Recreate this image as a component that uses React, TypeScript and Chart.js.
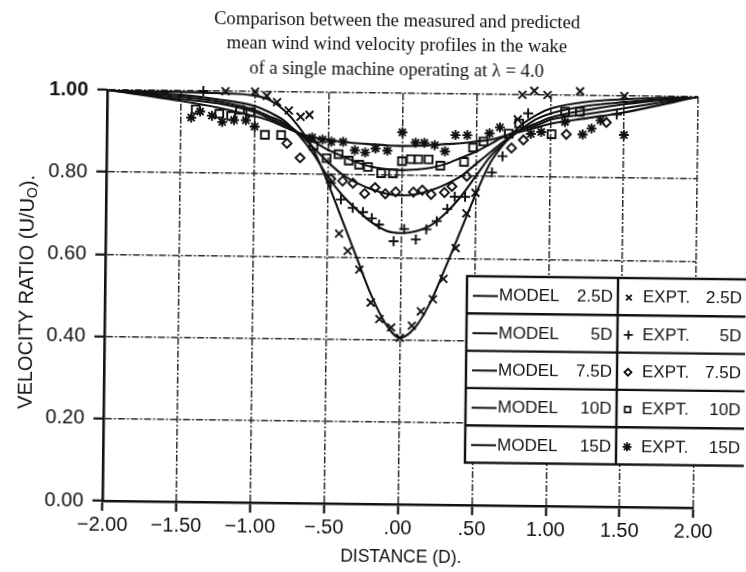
import React, { useEffect, useRef } from 'react';
import { Chart, registerables } from 'chart.js';
import { drawPoint } from 'chart.js/helpers';

Chart.register(...registerables);

const titleLines = [
  'Comparison between the measured and predicted',
  'mean wind wind velocity profiles in the wake',
  'of a single machine operating at \u03bb = 4.0',
];
const xAxisTitle = 'DISTANCE (D).';
const yAxisTitleMain = 'VELOCITY RATIO (U/U';
const yAxisTitleSub = 'O';
const yAxisTitleEnd = ').';

const xTickLabels = ['\u22122.00', '\u22121.50', '\u22121.00', '\u2212.50', '.00', '.50', '1.00', '1.50', '2.00'];
const yTickLabels = ['0.00', '0.20', '0.40', '0.60', '0.80', '1.00'];

const distances = ['2.5D', '5D', '7.5D', '10D', '15D'];

// model profiles, sampled at modelX
const modelX = [-2, -1.5, -1.25, -1, -0.9, -0.8, -0.7, -0.6, -0.5, -0.4, -0.3, -0.2, -0.1, 0, 0.1, 0.2, 0.3, 0.4, 0.5, 0.6, 0.7, 0.8, 0.9, 1.0, 1.25, 1.5, 2];
const model25 = [1.0, 0.997, 0.995, 0.99, 0.98, 0.955, 0.915, 0.86, 0.78, 0.69, 0.6, 0.51, 0.44, 0.405, 0.43, 0.49, 0.575, 0.665, 0.755, 0.835, 0.885, 0.925, 0.95, 0.967, 0.985, 0.992, 1.0];
const model5 = [1.0, 0.99, 0.98, 0.965, 0.95, 0.93, 0.895, 0.85, 0.795, 0.75, 0.715, 0.685, 0.665, 0.66, 0.665, 0.68, 0.71, 0.75, 0.8, 0.85, 0.885, 0.915, 0.94, 0.955, 0.975, 0.985, 1.0];
const model75 = [1.0, 0.985, 0.975, 0.955, 0.94, 0.925, 0.9, 0.865, 0.83, 0.8, 0.78, 0.765, 0.755, 0.752, 0.755, 0.765, 0.78, 0.8, 0.83, 0.86, 0.89, 0.915, 0.93, 0.945, 0.965, 0.98, 1.0];
const model10 = [1.0, 0.98, 0.97, 0.95, 0.935, 0.92, 0.9, 0.88, 0.86, 0.845, 0.83, 0.82, 0.815, 0.813, 0.815, 0.82, 0.83, 0.845, 0.86, 0.88, 0.9, 0.915, 0.925, 0.94, 0.955, 0.97, 1.0];
const model15 = [1.0, 0.975, 0.96, 0.94, 0.93, 0.915, 0.9, 0.89, 0.885, 0.88, 0.877, 0.875, 0.873, 0.872, 0.873, 0.875, 0.878, 0.88, 0.885, 0.89, 0.9, 0.91, 0.92, 0.93, 0.945, 0.96, 1.0];

// experimental points [distance, ratio]
const expt25 = [[-1.2, 1.0], [-1.0, 1.0], [-0.92, 0.99], [-0.85, 0.975], [-0.77, 0.955], [-0.69, 0.94], [-0.63, 0.945], [-0.42, 0.657], [-0.36, 0.615], [-0.28, 0.57], [-0.2, 0.49], [-0.14, 0.45], [-0.06, 0.43], [0.0, 0.405], [0.08, 0.435], [0.14, 0.47], [0.22, 0.5], [0.29, 0.55], [0.37, 0.625], [0.44, 0.71], [0.5, 0.76], [0.78, 0.94], [0.81, 1.0], [0.89, 1.01], [0.98, 1.0], [1.2, 1.01], [1.5, 1.0]];
const expt5 = [[-1.35, 1.0], [-0.48, 0.78], [-0.41, 0.74], [-0.33, 0.72], [-0.26, 0.71], [-0.2, 0.695], [-0.15, 0.68], [-0.05, 0.64], [0.02, 0.67], [0.1, 0.645], [0.17, 0.67], [0.24, 0.69], [0.31, 0.72], [0.36, 0.75], [0.43, 0.75], [0.61, 0.81], [0.68, 0.85], [0.85, 0.955], [1.45, 0.955]];
const expt75 = [[-0.78, 0.875], [-0.69, 0.84], [-0.48, 0.79], [-0.4, 0.785], [-0.33, 0.78], [-0.25, 0.755], [-0.18, 0.77], [-0.11, 0.755], [-0.04, 0.76], [0.08, 0.76], [0.14, 0.765], [0.2, 0.755], [0.29, 0.76], [0.34, 0.775], [0.44, 0.8], [0.74, 0.87], [0.82, 0.89], [1.11, 0.905], [1.38, 0.935]];
const expt10 = [[-1.4, 0.955], [-1.24, 0.945], [-1.16, 0.94], [-1.1, 0.955], [-1.03, 0.95], [-0.93, 0.895], [-0.82, 0.895], [-0.6, 0.87], [-0.51, 0.84], [-0.43, 0.85], [-0.36, 0.835], [-0.29, 0.825], [-0.23, 0.82], [-0.14, 0.805], [-0.06, 0.805], [0.0, 0.835], [0.06, 0.84], [0.11, 0.84], [0.18, 0.84], [0.26, 0.825], [0.42, 0.835], [0.48, 0.87], [0.55, 0.885], [0.72, 0.905], [0.79, 0.93], [1.01, 0.905], [1.1, 0.96], [1.2, 0.96]];
const expt15 = [[-1.43, 0.935], [-1.37, 0.95], [-1.29, 0.94], [-1.22, 0.925], [-1.14, 0.93], [-1.06, 0.93], [-1.0, 0.915], [-0.61, 0.89], [-0.54, 0.885], [-0.48, 0.88], [-0.4, 0.88], [-0.32, 0.86], [-0.25, 0.855], [-0.18, 0.865], [-0.1, 0.86], [0.0, 0.905], [0.09, 0.88], [0.15, 0.88], [0.22, 0.875], [0.29, 0.86], [0.36, 0.9], [0.44, 0.9], [0.59, 0.905], [0.66, 0.92], [0.87, 0.905], [0.94, 0.91], [1.1, 0.935], [1.22, 0.905], [1.28, 0.92], [1.34, 0.94], [1.5, 0.905]];

const models = [model25, model5, model75, model10, model15];
const expts = [expt25, expt5, expt75, expt10, expt15];
const exptStyles = ['crossRot', 'cross', 'rectRot', 'rect', 'star'];
const exptRadius = [5.5, 5, 4.5, 5.5, 5];
const legendRadius = [4, 4.5, 3.5, 4, 4.5];

const INK = '#111111';
const GRID = '#2a2a2a';
const SANS = '"Liberation Sans", Arial, Helvetica, sans-serif';
const SERIF = '"Liberation Serif", "Times New Roman", serif';

const overlayPlugin = {
  id: 'overlay',
  afterDraw(chart: any) {
    const { ctx } = chart;
    ctx.save();
    ctx.fillStyle = INK;
    ctx.textAlign = 'center';
    ctx.textBaseline = 'middle';

    // title
    ctx.font = `18.6px ${SERIF}`;
    titleLines.forEach((t, i) => ctx.fillText(t, 394, 21 + i * 24.5));

    // x axis title
    ctx.font = `17.5px ${SANS}`;
    ctx.fillText(xAxisTitle, 404, 557);

    // y axis title (rotated, with subscript)
    ctx.save();
    ctx.translate(27, 296);
    ctx.rotate(-Math.PI / 2);
    ctx.textAlign = 'left';
    const mainFont = `20px ${SANS}`;
    const subFont = `14px ${SANS}`;
    ctx.font = mainFont;
    const w1 = ctx.measureText(yAxisTitleMain).width;
    const w3 = ctx.measureText(yAxisTitleEnd).width;
    ctx.font = subFont;
    const w2 = ctx.measureText(yAxisTitleSub).width;
    let x0 = -(w1 + w2 + w3) / 2;
    ctx.font = mainFont;
    ctx.fillText(yAxisTitleMain, x0, 0);
    x0 += w1;
    ctx.font = subFont;
    ctx.fillText(yAxisTitleSub, x0, 5);
    x0 += w2;
    ctx.font = mainFont;
    ctx.fillText(yAxisTitleEnd, x0, 0);
    ctx.restore();

    // legend table
    const L = 467, T = 275, C = 618, R = 770, rowH = 37.3;
    ctx.fillStyle = '#ffffff';
    ctx.fillRect(L, T, R - L, rowH * 5);
    ctx.strokeStyle = INK;
    ctx.lineWidth = 2.4;
    ctx.strokeRect(L, T, R - L, rowH * 5);
    ctx.beginPath();
    for (let i = 1; i < 5; i++) {
      ctx.moveTo(L, T + i * rowH);
      ctx.lineTo(R, T + i * rowH);
    }
    ctx.moveTo(C, T);
    ctx.lineTo(C, T + 5 * rowH);
    ctx.stroke();

    ctx.font = `17px ${SANS}`;
    ctx.textBaseline = 'middle';
    distances.forEach((d, i) => {
      const cy = T + rowH * (i + 0.5) + 1;
      // model cell
      ctx.strokeStyle = INK;
      ctx.lineWidth = 2;
      ctx.beginPath();
      ctx.moveTo(L + 6, cy);
      ctx.lineTo(L + 31, cy);
      ctx.stroke();
      ctx.fillStyle = INK;
      ctx.textAlign = 'left';
      ctx.fillText('MODEL', L + 32, cy);
      ctx.textAlign = 'right';
      ctx.fillText(d, C - 5, cy);
      // expt cell
      ctx.fillStyle = 'rgba(0,0,0,0)';
      ctx.strokeStyle = INK;
      ctx.lineWidth = 1.8;
      drawPoint(ctx, { pointStyle: exptStyles[i], radius: legendRadius[i], rotation: 0, borderWidth: 1.8 } as any, C + 11, cy);
      ctx.fillStyle = INK;
      ctx.textAlign = 'left';
      ctx.fillText('EXPT.', C + 25, cy);
      ctx.textAlign = 'right';
      ctx.fillText(d, 742, cy);
    });
    ctx.restore();
  },
};

export default function App() {
  const canvasRef = useRef<HTMLCanvasElement | null>(null);

  useEffect(() => {
    const canvas = canvasRef.current;
    if (!canvas) return;

    const datasets: any[] = [];
    models.forEach((m, i) => {
      datasets.push({
        label: `MODEL ${distances[i]}`,
        data: modelX.map((x, j) => ({ x, y: m[j] })),
        showLine: true,
        borderColor: INK,
        borderWidth: 2.1,
        pointRadius: 0,
        cubicInterpolationMode: 'monotone',
        fill: false,
      });
    });
    expts.forEach((e, i) => {
      datasets.push({
        label: `EXPT. ${distances[i]}`,
        data: e.map(([x, y]) => ({ x, y })),
        showLine: false,
        pointStyle: exptStyles[i],
        pointRadius: exptRadius[i],
        pointBorderWidth: 1.9,
        pointBorderColor: INK,
        pointBackgroundColor: 'rgba(0,0,0,0)',
        clip: false,
      });
    });

    const gridOpts = { color: GRID, lineWidth: 1.5, tickLength: 10, tickColor: INK, tickWidth: 2.2 };
    const borderOpts = { color: INK, width: 2.6, dash: [7, 2, 2, 2] };

    const chart = new Chart(canvas, {
      type: 'scatter',
      data: { datasets },
      plugins: [overlayPlugin],
      options: {
        animation: false,
        responsive: false,
        maintainAspectRatio: false,
        events: [],
        layout: { padding: { top: 93, right: 50, left: 0, bottom: 0 } },
        plugins: {
          legend: { display: false },
          title: { display: false },
          tooltip: { enabled: false },
        },
        scales: {
          x: {
            type: 'linear',
            min: -2,
            max: 2,
            ticks: {
              stepSize: 0.5,
              autoSkip: false,
              maxRotation: 0,
              padding: 2,
              color: INK,
              font: { size: 20, family: SANS },
              callback: (_v: any, i: number) => xTickLabels[i],
            },
            grid: gridOpts,
            border: borderOpts,
            afterFit: (s: any) => { s.height = 68; },
          },
          y: {
            type: 'linear',
            min: 0,
            max: 1,
            ticks: {
              stepSize: 0.2,
              autoSkip: false,
              padding: 9,
              color: INK,
              font: (c: any) => (c.index === 5 ? { size: 20, family: SANS, weight: 'bold' } : { size: 20, family: SANS }),
              callback: (_v: any, i: number) => yTickLabels[i],
            },
            grid: gridOpts,
            border: borderOpts,
            afterFit: (s: any) => { s.width = 105; },
          },
        },
      } as any,
    });
    return () => chart.destroy();
  }, []);

  return (
    <div
      style={{
        position: 'fixed',
        left: 0,
        top: 0,
        width: 746,
        height: 572,
        background: '#fff',
        transform: 'rotate(0.68deg)',
        transformOrigin: '373px 286px',
      }}
    >
      <canvas ref={canvasRef} width={746} height={572} style={{ display: 'block', width: 746, height: 572 }} />
    </div>
  );
}
